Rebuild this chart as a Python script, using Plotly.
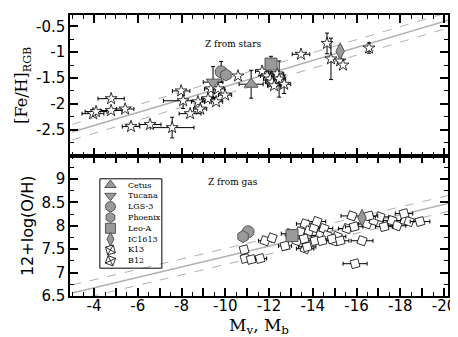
import plotly.graph_objects as go
from plotly.subplots import make_subplots

# ---------------------------
# data
# ---------------------------
# top panel: [Fe/H] from stars (field galaxies)
star_mag = [-3.95, -4.09, -4.78, -4.78, -5.42, -5.69, -6.56, -7.57, -7.98, -8.07,
            -8.39, -8.75, -8.85, -9.21, -9.35, -9.58, -9.67, -9.99, -10.58, -11.68,
            -11.91, -12.05, -12.14, -12.37, -12.46, -12.69, -12.23, -13.46, -14.65, -14.83,
            -15.25, -15.38, -16.57]
star_feh = [-2.19, -2.15, -1.90, -2.13, -2.10, -2.44, -2.40, -2.46, -1.75, -1.94,
            -2.19, -1.96, -2.10, -1.90, -1.71, -1.96, -1.71, -1.83, -1.46, -1.37,
            -1.46, -1.52, -1.58, -1.42, -1.52, -1.62, -1.65, -1.04, -0.83, -1.13,
            -1.17, -1.25, -0.92]
star_xerr = [0.5, 0.5, 0.6, 0.5, 0.4, 0.4, 0.5, 1.0, 0.4, 0.9,
             0.5, 0.3, 0.3, 0.3, 0.3, 0.3, 0.3, 0.3, 0.0, 0.3,
             0.3, 0.3, 0.3, 0.3, 0.3, 0.3, 0.3, 0.4, 0.0, 0.0,
             0.0, 0.0, 0.0]
star_yerr = [0.0, 0.0, 0.0, 0.0, 0.0, 0.0, 0.0, 0.2, 0.0, 0.15,
             0.0, 0.0, 0.0, 0.0, 0.0, 0.0, 0.0, 0.0, 0.0, 0.0,
             0.0, 0.0, 0.0, 0.0, 0.35, 0.18, 0.0, 0.0, 0.2, 0.4,
             0.0, 0.0, 0.1]

# bottom panel: 12+log(O/H) from gas (B12 / K13 samples)
gas_mag = [-10.86, -10.90, -11.18, -11.59, -11.82, -12.14, -12.73, -12.96, -13.28, -13.42,
           -13.60, -13.65, -13.65, -13.74, -13.83, -14.06, -14.10, -14.19, -14.33, -14.42,
           -14.51, -14.65, -14.88, -14.97, -15.11, -15.25, -15.57, -15.79, -15.89, -15.93,
           -16.25, -16.48, -16.57, -16.80, -17.07, -17.26, -17.62, -17.85, -18.17, -18.22,
           -18.40, -18.90]
gas_oh = [7.49, 7.30, 7.28, 7.30, 7.68, 7.74, 7.57, 7.83, 7.68, 7.87,
          7.72, 8.04, 7.51, 7.55, 7.89, 7.96, 7.68, 8.09, 7.79, 7.68,
          7.94, 7.79, 7.72, 7.68, 7.77, 7.68, 7.94, 8.21, 7.98, 7.19,
          7.68, 8.04, 8.21, 8.11, 8.19, 7.98, 8.11, 8.00, 8.26, 8.11,
          8.09, 8.09]
gas_xerr = [0.0, 0.0, 0.3, 0.3, 0.3, 0.0, 0.3, 0.4, 0.4, 0.4,
            0.4, 0.4, 0.4, 0.4, 0.4, 0.4, 0.4, 0.4, 0.4, 0.4,
            0.4, 0.4, 0.4, 0.4, 0.4, 0.4, 0.4, 0.5, 0.4, 0.55,
            0.5, 0.4, 0.4, 0.4, 0.4, 0.4, 0.4, 0.4, 0.4, 0.4,
            0.4, 0.45]
gas_k13 = [1, 1, 1, 1, 0, 0, 1, 0, 0, 0,
           1, 0, 0, 1, 0, 0, 1, 0, 0, 1,
           0, 0, 1, 0, 0, 1, 0, 0, 1, 1,
           0, 0, 1, 0, 0, 1, 0, 0, 1, 0,
           0, 1]

# named galaxies (M, [Fe/H], err) and (M, O/H)
gal_names = ["Cetus", "Tucana", "LGS-3", "Phoenix", "Leo-A", "IC1613"]
gal_symbols = ["triangle-up", "triangle-down", "circle", "hexagon", "square", "diamond-tall"]
gal_mag_top = [-11.18, -9.44, -9.81, -10.03, -12.09, -15.25]
gal_feh = [-1.62, -1.58, -1.38, -1.44, -1.23, -0.98]
gal_feh_err = [0.27, 0.3, 0.2, 0.0, 0.15, 0.1]
gal_mag_err = [0.55, 0.45, 0.0, 0.0, 0.0, 0.0]
gal_mag_bot = [None, None, -11.04, -10.81, -13.05, -16.25]
gal_oh = [None, None, 7.87, 7.77, 7.79, 8.17]
gal_oh_err = [0, 0, 0.0, 0.0, 0.08, 0.1]

# linear fits: y = a + b * M, with dashed band
fit_mag = [-3.0, -20.3]
fe_a, fe_b, fe_band = -2.925, -0.1261, 0.15
oh_a, oh_b, oh_band = 6.231, -0.1112, 0.17

x_ticks = list(range(-4, -21, -1))
x_labels = [str(v) if v % 2 == 0 else "" for v in x_ticks]
fe_ticks = [-0.5, -1, -1.5, -2, -2.5]
fe_labels = ["-0.5", "-1", "-1.5", "-2", "-2.5"]
oh_ticks = [6.5, 7, 7.5, 8, 8.5, 9]
oh_labels = ["6.5", "7", "7.5", "8", "8.5", "9"]

GRAY = "#9a9a9a"
EDGE = "#555555"
SERIF = "DejaVu Serif"
SANS = "DejaVu Sans"

fig = make_subplots(rows=2, cols=1, shared_xaxes=True, vertical_spacing=0)

# fits
for row, a, b, band in [(1, fe_a, fe_b, fe_band), (2, oh_a, oh_b, oh_band)]:
    fy = [a + b * m for m in fit_mag]
    fig.add_trace(go.Scatter(x=fit_mag, y=fy, mode="lines", line=dict(color="#b0b0b0", width=1.5),
                             showlegend=False, hoverinfo="skip"), row=row, col=1)
    for s in (1, -1):
        fig.add_trace(go.Scatter(x=fit_mag, y=[v + s * band for v in fy], mode="lines",
                                 line=dict(color="#b0b0b0", width=1, dash="dash"),
                                 showlegend=False, hoverinfo="skip"), row=row, col=1)

err_style = dict(color="black", thickness=1, width=2)

# stars (top)
fig.add_trace(go.Scatter(
    x=star_mag, y=star_feh, mode="markers",
    marker=dict(symbol="star", size=9, color="white", line=dict(color="black", width=0.8)),
    error_x=dict(type="data", array=star_xerr, **err_style),
    error_y=dict(type="data", array=star_yerr, **err_style),
    showlegend=False), row=1, col=1)

# gas (bottom)
for flag, ang in [(0, 20), (1, -15)]:
    xs = [m for m, k in zip(gas_mag, gas_k13) if k == flag]
    ys = [o for o, k in zip(gas_oh, gas_k13) if k == flag]
    es = [e for e, k in zip(gas_xerr, gas_k13) if k == flag]
    fig.add_trace(go.Scatter(
        x=xs, y=ys, mode="markers",
        marker=dict(symbol="square", size=8, angle=ang, color="white",
                    line=dict(color="black", width=0.8)),
        error_x=dict(type="data", array=es, **err_style),
        showlegend=False), row=2, col=1)

# named galaxies
for i, name in enumerate(gal_names):
    mk = dict(symbol=gal_symbols[i], size=12, color=GRAY, line=dict(color=EDGE, width=1))
    fig.add_trace(go.Scatter(
        x=[gal_mag_top[i]], y=[gal_feh[i]], mode="markers", marker=mk,
        error_x=dict(type="data", array=[gal_mag_err[i]], **err_style),
        error_y=dict(type="data", array=[gal_feh_err[i]], **err_style),
        showlegend=False), row=1, col=1)
    if gal_oh[i] is not None:
        fig.add_trace(go.Scatter(
            x=[gal_mag_bot[i]], y=[gal_oh[i]], mode="markers", marker=mk,
            error_y=dict(type="data", array=[gal_oh_err[i]], **err_style),
            showlegend=False), row=2, col=1)

# hand-made legend box on an invisible overlay axis (paper fractions)
leg_names = gal_names + ["K13", "B12"]
leg_top, leg_step = 0.395, 0.0385
for i, name in enumerate(leg_names):
    yy = leg_top - i * leg_step
    if i < 6:
        mk = dict(symbol=gal_symbols[i], size=10, color=GRAY, line=dict(color=EDGE, width=1))
    else:
        mk = dict(symbol="square-x", size=8, angle=(-15 if name == "K13" else 20), color="white",
                  line=dict(color="black", width=0.8))
    fig.add_trace(go.Scatter(x=[0.107], y=[yy], mode="markers", marker=mk, xaxis="x3", yaxis="y3",
                             showlegend=False, hoverinfo="skip"))
    fig.add_annotation(x=0.148, y=yy, xref="paper", yref="paper", text=name, showarrow=False,
                       xanchor="left", yanchor="middle", font=dict(family=SERIF, size=8, color="black"))
fig.add_shape(type="rect", xref="paper", yref="paper", x0=0.079, x1=0.243, y0=0.099, y1=0.417,
              line=dict(color="black", width=1), fillcolor="rgba(0,0,0,0)")

fig.add_annotation(x=0.43, y=0.922, xref="paper", yref="paper", text="Z from stars", showarrow=False,
                   font=dict(family=SERIF, size=9, color="black"))
fig.add_annotation(x=0.43, y=0.405, xref="paper", yref="paper", text="Z from gas", showarrow=False,
                   font=dict(family=SERIF, size=9, color="black"))

axis_common = dict(showline=True, linecolor="black", linewidth=1.5, mirror="ticks", ticks="inside",
                   ticklen=8, tickwidth=1.5, tickcolor="black", showgrid=False, zeroline=False,
                   tickfont=dict(family=SANS, size=15, color="black"))

fig.update_xaxes(**axis_common, range=[-2.9, -20.18], tickmode="array", tickvals=x_ticks,
                 ticktext=x_labels, ticklabelstandoff=-5,
                 minor=dict(ticks="inside", ticklen=4, tickwidth=1, tickcolor="black",
                            tickmode="linear", tick0=0, dtick=0.5))
fig.update_xaxes(showticklabels=False, row=1, col=1)
fig.update_xaxes(title=dict(text="M<sub>v</sub>, M<sub>b</sub>",
                            font=dict(family=SERIF, size=17, color="black"), standoff=0),
                 row=2, col=1)

fig.update_yaxes(**axis_common,
                 minor=dict(ticks="inside", ticklen=4, tickwidth=1, tickcolor="black",
                            tickmode="linear", tick0=0, dtick=0.25))
fig.update_yaxes(range=[-3.0, -0.28], tickmode="array", tickvals=fe_ticks, ticktext=fe_labels,
                 title=dict(text="[Fe/H]<sub>RGB</sub>", font=dict(family=SERIF, size=16, color="black"),
                            standoff=4),
                 row=1, col=1)
fig.update_yaxes(range=[6.5, 9.5], tickmode="array", tickvals=oh_ticks, ticktext=oh_labels,
                 title=dict(text="12+log(O/H)", font=dict(family=SANS, size=16, color="black"), standoff=4),
                 row=2, col=1)

fig.update_layout(
    width=458, height=337,
    margin=dict(l=62, r=18, t=5, b=49),
    paper_bgcolor="white", plot_bgcolor="rgba(0,0,0,0)",
    showlegend=False,
    xaxis3=dict(domain=[0, 1], range=[0, 1], anchor="y3", visible=False),
    yaxis3=dict(domain=[0, 1], range=[0, 1], anchor="x3", visible=False),
)

fig.write_html("out.html")
